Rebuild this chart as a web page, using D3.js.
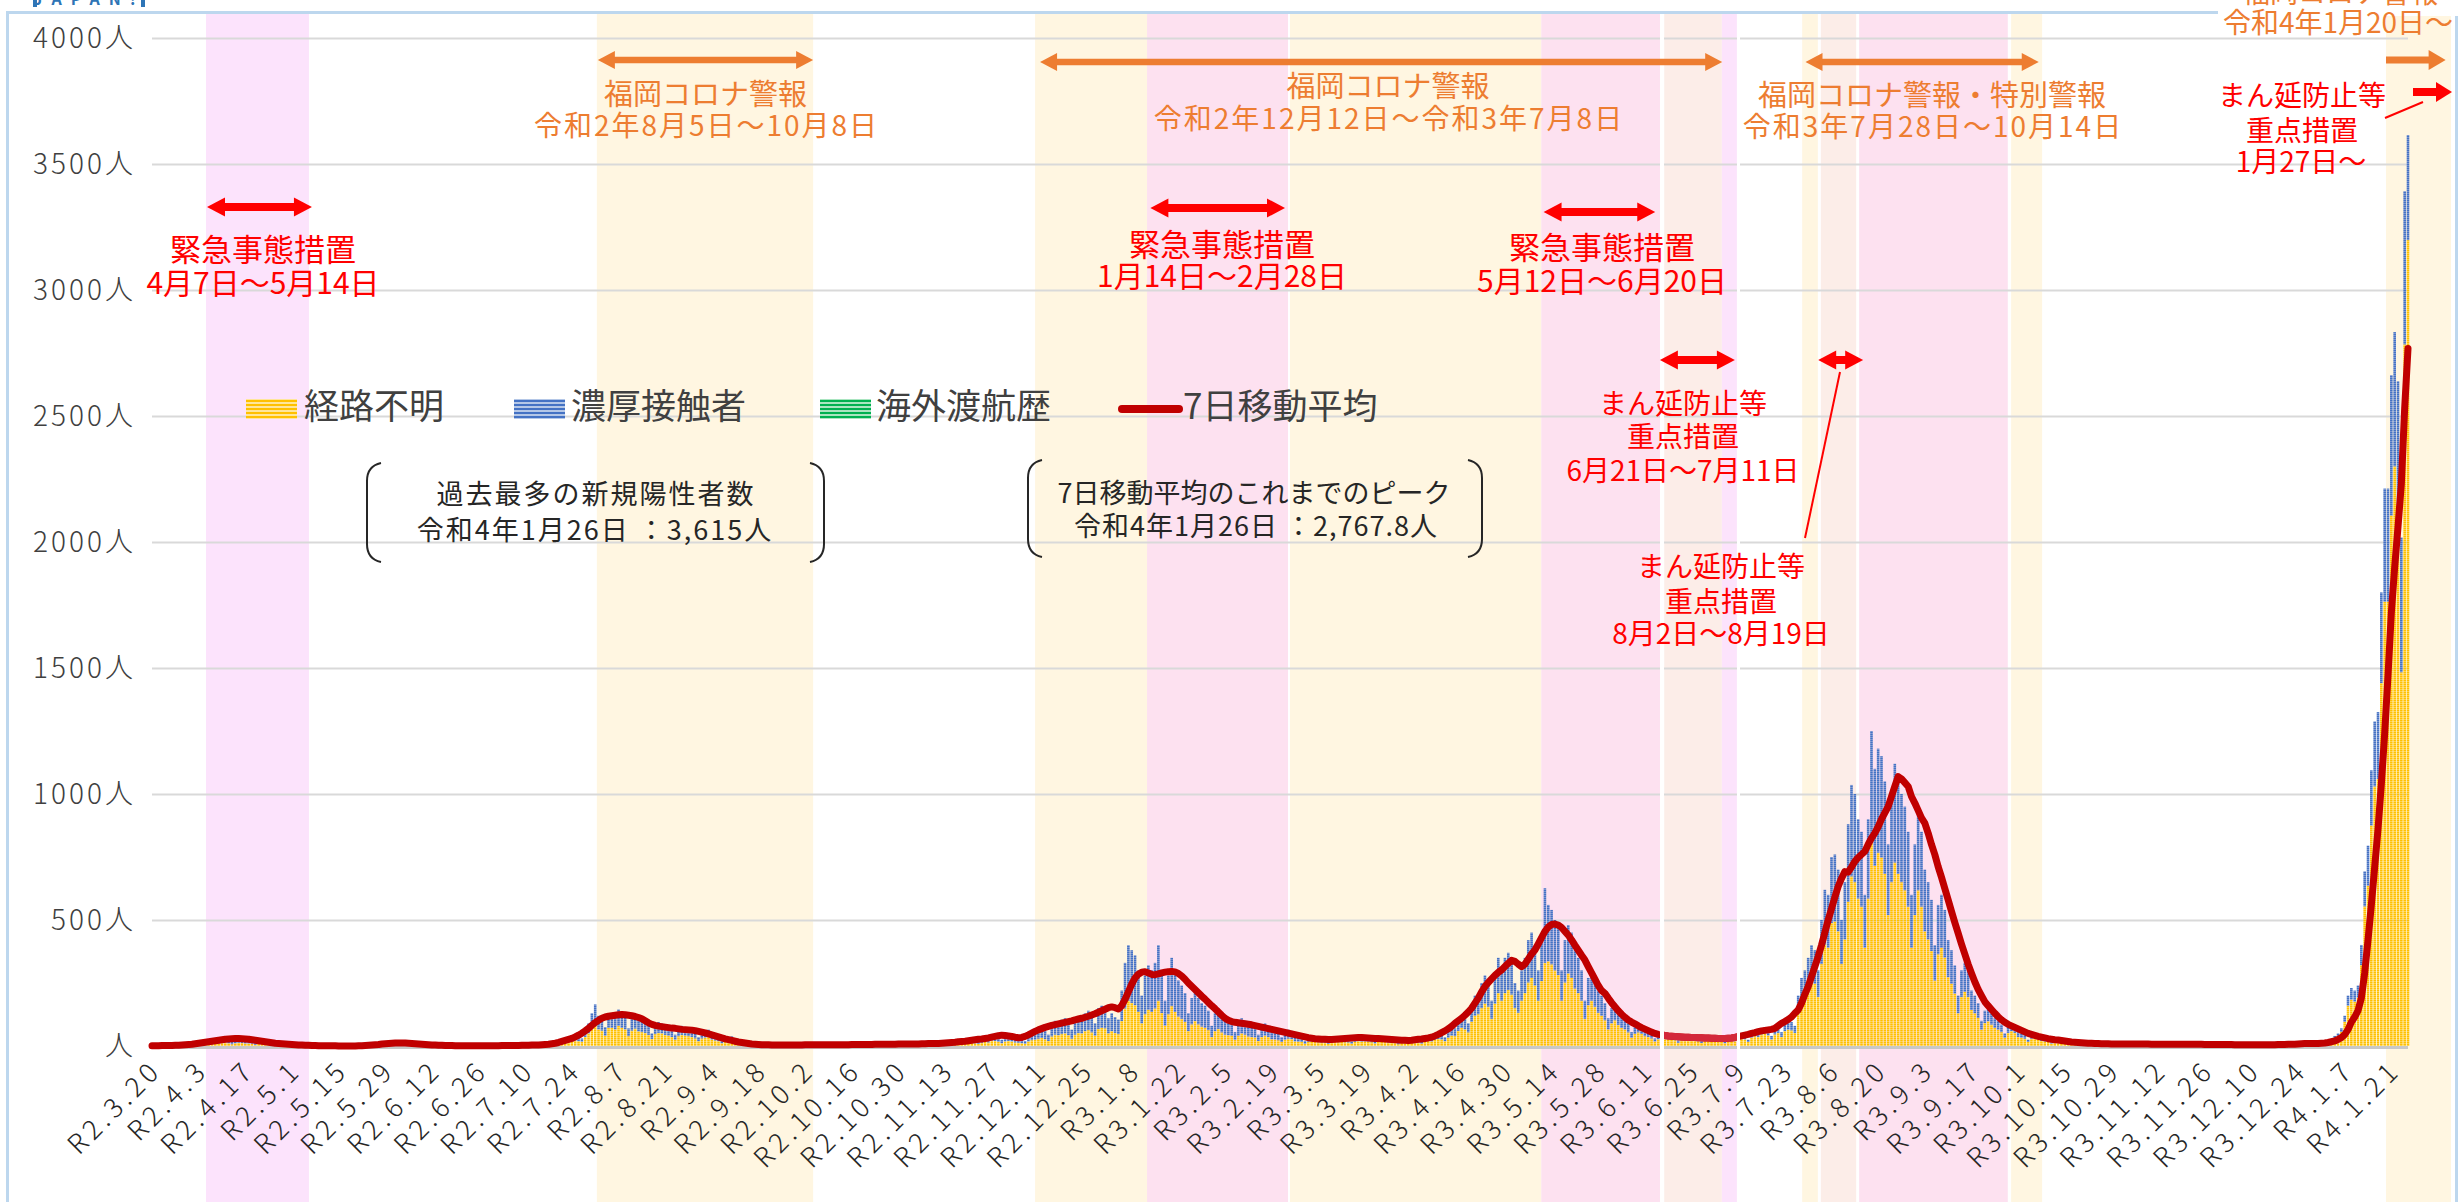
<!DOCTYPE html>
<html><head><meta charset="utf-8">
<script src="https://cdn.jsdelivr.net/npm/d3@7"></script>
<style>
body{margin:0;background:#fff;}
svg{display:block;font-family:"Noto Sans CJK JP","Noto Sans",sans-serif;}
</style>
</head><body>
<svg id="c" width="2463" height="1202"></svg>
<script>
// ---------------- DATA ----------------
const startDate = "2020-03-20"; // day index 0
const tickLabels = ["R2.3.20","R2.4.3","R2.4.17","R2.5.1","R2.5.15","R2.5.29","R2.6.12","R2.6.26","R2.7.10","R2.7.24","R2.8.7","R2.8.21","R2.9.4","R2.9.18","R2.10.2","R2.10.16","R2.10.30","R2.11.13","R2.11.27","R2.12.11","R2.12.25","R3.1.8","R3.1.22","R3.2.5","R3.2.19","R3.3.5","R3.3.19","R3.4.2","R3.4.16","R3.4.30","R3.5.14","R3.5.28","R3.6.11","R3.6.25","R3.7.9","R3.7.23","R3.8.6","R3.8.20","R3.9.3","R3.9.17","R3.10.1","R3.10.15","R3.10.29","R3.11.12","R3.11.26","R3.12.10","R3.12.24","R4.1.7","R4.1.21"];
const tickDays = tickLabels.map((d,i)=>i*14);
const yTicks = [0,500,1000,1500,2000,2500,3000,3500,4000];
const yTickLabels = ["人","500人","1000人","1500人","2000人","2500人","3000人","3500人","4000人"];
const seriesNames = ["経路不明","濃厚接触者","海外渡航歴","7日移動平均"];

// 経路不明 (daily, from 2020-03-20, one row per week Fri..Thu)
const unknownRoute = [
0,1,1,0,1,2,1, 2,2,2,1,2,3,4, 6,8,7,4,7,10,9, 12,14,11,7,11,13,12, 10,10,8,5,9,10,8, 6,5,4,2,5,6,4,
2,2,2,1,1,2,2, 1,0,0,0,0,0,1, 0,0,0,0,0,0,0, 0,1,2,1,2,3,3, 4,4,3,2,4,4,4, 3,2,2,1,2,1,1,
1,1,1,0,1,1,1, 0,0,0,0,0,1,0, 0,1,0,0,1,1,0, 1,1,1,0,1,1,1, 2,2,2,1,2,3,3, 4,7,6,4,10,14,15,
19,22,19,17,36,50,72, 91,66,61,41,72,72,66, 80,72,66,39,61,69,58, 55,52,44,28,47,52,50, 44,41,36,25,39,44,41, 39,36,30,19,30,33,36,
25,22,19,11,17,19,21, 11,9,8,4,7,8,7, 4,3,3,2,2,3,2, 3,2,2,1,2,3,2, 3,2,2,1,2,3,3, 3,2,2,1,2,3,3,
3,3,2,1,3,4,3, 4,3,3,2,3,4,4, 5,4,3,2,4,5,4, 5,5,4,2,5,5,5, 7,6,5,5,9,11,11, 14,13,11,8,13,16,14,
22,20,17,11,18,20,18, 14,13,11,9,18,23,25, 29,32,27,20,38,45,43, 47,50,43,29,45,52,50, 59,63,54,41,68,72,70, 50,59,52,47,99,149,180,
171,162,135,90,126,144,135, 149,180,131,81,126,158,135, 117,108,95,59,86,99,86, 77,72,63,36,59,68,54, 45,43,41,25,41,50,45, 38,36,34,20,36,41,36,
27,26,23,16,25,29,27, 18,17,16,9,16,18,16, 15,14,13,8,14,18,15, 16,15,14,9,16,19,17, 18,17,15,10,16,19,18, 14,13,12,7,12,15,14,
15,14,13,9,16,20,18, 25,28,26,19,33,41,39, 60,72,66,54,96,120,126, 150,168,156,108,168,210,180, 210,222,204,150,132,180,210, 252,270,240,180,258,330,336,
324,300,282,180,252,288,270, 228,210,180,108,162,180,156, 132,120,102,66,90,102,84, 72,66,54,33,48,54,48, 39,36,30,18,27,30,27, 27,25,23,13,23,25,24,
23,22,19,12,19,23,21, 21,20,18,11,18,21,19, 26,29,26,16,33,39,36, 46,49,42,26,46,52,36, 59,65,62,52,130,176,195, 228,260,247,195,325,403,390,
488,494,455,325,423,572,673, 650,585,553,390,585,813,715, 767,748,683,520,650,728,683, 650,618,553,390,520,618,553, 455,423,377,260,364,390,351, 273,247,208,130,195,215,195,
143,130,111,65,91,98,85, 72,65,55,33,52,59,52, 36,33,29,16,29,33,29, 20,18,16,9,16,18,16, 9,8,7,4,7,8,7, 6,5,5,3,5,5,5,
5,4,4,2,4,5,4, 4,4,3,2,4,4,4, 4,4,3,2,4,4,4, 4,4,4,2,4,4,4, 4,3,3,2,3,4,3, 3,3,3,2,3,3,3,
3,3,3,2,3,3,3, 4,3,3,2,4,5,5, 6,6,5,3,5,6,5, 11,13,18,22,32,40,56, 96,160,184,176,192,321,554, 636,875,1030,1060,1440,1763,1763,
2105,2300,2110,1483,2784,3198
];
// 濃厚接触者
const closeContact = [
1,1,2,0,1,2,2, 2,3,4,2,4,5,6, 9,12,11,6,11,15,13, 18,21,17,11,16,20,18, 16,14,12,7,13,15,13, 8,8,6,4,7,8,7,
4,3,2,1,2,2,2, 1,1,1,0,1,1,0, 0,0,0,0,0,1,0, 1,2,3,2,6,7,6, 9,8,8,6,10,9,8, 6,5,4,2,3,4,3,
2,1,1,1,1,1,1, 1,1,0,0,1,0,1, 1,0,1,0,0,1,1, 1,2,1,1,1,2,2, 2,3,2,1,2,3,3, 4,5,4,4,8,11,13,
16,18,16,13,29,40,58, 74,54,49,34,58,58,54, 65,58,54,31,49,56,47, 45,43,36,22,38,43,40, 36,34,29,20,31,36,34, 31,29,25,16,25,27,29,
20,18,16,9,13,16,17, 9,7,6,4,5,6,5, 4,3,2,1,2,2,2, 2,2,2,1,2,2,2, 3,3,2,2,3,3,3, 3,3,3,1,3,3,3,
4,3,3,2,3,4,4, 4,4,3,2,4,4,5, 5,4,4,2,4,5,5, 7,5,5,3,5,7,7, 8,8,7,5,11,14,13, 16,15,14,10,15,19,18,
26,25,21,14,22,25,22, 16,15,14,11,22,27,30, 36,38,33,25,47,55,52, 58,60,52,36,55,63,60, 71,77,66,49,82,88,85, 60,71,63,58,121,181,220,
209,198,165,110,154,176,165, 181,220,159,99,154,192,165, 143,132,115,71,104,121,104, 93,88,77,44,71,82,66, 55,52,49,30,49,60,55, 47,44,41,25,44,49,44,
33,32,29,19,30,36,33, 22,21,19,11,19,22,19, 15,14,12,7,14,17,15, 16,15,14,9,16,19,17, 17,17,15,10,16,19,17, 14,13,12,7,12,15,14,
15,14,13,9,16,20,18, 20,22,22,16,27,34,31, 40,48,44,36,64,80,84, 100,112,104,72,112,140,120, 140,148,136,100,88,120,140, 168,180,160,120,172,296,224,
216,200,188,120,168,192,180, 152,140,120,72,108,120,104, 88,80,68,44,60,68,56, 48,44,36,22,32,36,32, 26,24,20,12,18,20,18, 18,17,15,9,15,17,16,
15,14,13,8,13,15,14, 14,13,12,7,12,14,13, 14,16,14,9,17,21,19, 24,26,23,14,24,28,19, 31,35,33,28,70,94,105, 122,140,133,105,175,217,210,
262,266,245,175,227,308,363, 350,315,297,210,315,437,385, 413,402,367,280,350,392,367, 350,332,297,210,280,332,297, 245,227,203,140,196,210,189, 147,133,112,70,105,115,105,
77,70,59,35,49,52,45, 38,35,30,17,28,31,28, 19,17,16,9,16,17,16, 10,10,8,5,9,10,9, 9,8,7,4,6,7,7, 5,5,4,2,4,5,4,
4,4,4,2,4,4,4, 4,3,3,2,3,4,3, 4,3,3,2,3,4,4, 4,3,3,1,3,4,3, 3,3,3,1,3,3,3, 3,2,2,1,2,3,2,
3,2,2,1,2,3,2, 3,3,3,2,4,4,4, 6,5,5,3,5,6,5, 3,3,4,5,8,10,14, 24,40,46,44,48,80,139, 159,219,258,265,360,449,449,
557,533,528,535,608,417
];
// 海外渡航歴 (sparse: [day index, cases])
const overseas = [[2,1],[6,1],[10,1],[14,1],[17,2],[21,1]];
// 7日移動平均
const movingAvg = [
1,1,1,2,2,2,2, 3,3,4,5,6,7,9, 11,13,15,17,19,21,23, 25,27,28,29,30,30,29, 28,27,25,23,21,19,17, 15,13,11,10,9,8,7,
6,5,4,4,3,3,2, 2,1,1,1,1,1,1, 0,0,0,0,0,0,1, 1,2,3,4,5,6,8, 9,10,11,12,12,12,12, 11,10,9,8,7,6,5,
4,4,3,3,2,2,2, 1,1,1,1,1,1,1, 1,1,1,1,1,1,1, 2,2,2,2,2,2,3, 3,3,4,4,4,5,6, 7,9,11,14,18,22,26,
30,36,43,51,60,70,82, 93,102,110,115,118,120,122, 124,125,124,122,120,117,113, 108,100,92,86,82,79,77, 75,73,71,70,68,66,65, 64,63,61,58,55,52,48,
44,40,36,32,28,25,22, 19,16,14,12,10,8,7, 6,5,5,5,4,4,4, 4,4,4,4,4,4,4, 5,5,5,5,5,5,5, 5,5,5,5,5,5,5,
6,6,6,6,6,6,6, 7,7,7,7,7,7,7, 8,8,8,8,8,8,8, 9,9,10,10,10,10,11, 12,13,14,15,17,18,19, 21,23,25,27,28,30,32,
35,38,41,43,42,40,38, 35,33,34,38,44,51,58, 64,69,74,78,82,85,88, 91,94,97,100,104,107,110, 114,118,123,128,134,140,146, 152,155,152,147,160,185,215,
245,270,285,293,295,290,284, 283,286,290,293,295,296,294, 288,278,265,250,237,224,211, 198,186,173,160,148,135,122, 110,102,97,94,92,90,88, 86,84,81,78,75,72,69,
66,63,60,57,54,51,48, 45,42,39,36,33,31,29, 28,27,27,26,26,27,28, 29,30,31,32,33,34,34, 33,32,31,30,30,29,28, 27,26,25,24,23,23,22,
23,25,27,28,30,32,35, 40,46,53,60,68,78,90, 100,110,122,135,150,170,190, 215,236,252,266,280,292,302, 315,328,340,336,325,315,325, 345,365,381,405,430,455,472,
482,484,480,470,455,440,421, 400,380,360,341,315,290,265, 240,220,209,190,172,156,140, 126,114,103,95,88,80,73, 67,61,55,50,46,44,42, 40,39,38,37,36,35,35,
34,34,33,33,32,32,31, 31,30,30,30,31,32,34, 37,40,43,46,50,53,57, 60,62,64,66,70,80,90, 97,105,115,130,143,170,205, 236,275,315,355,400,450,500,
545,590,633,665,692,690,710, 732,748,760,772,800,825,845, 870,900,925,950,990,1030,1069, 1060,1045,1030,990,964,935,905, 884,845,800,760,712,670,625, 580,535,490,448,405,365,325,
289,255,225,200,176,160,145, 130,116,104,94,86,80,74, 68,62,56,50,46,42,38, 35,32,29,27,25,24,22, 20,18,16,15,14,13,12, 11,11,10,10,9,9,9,
8,8,8,8,8,8,8, 8,8,8,8,8,7,7, 7,7,7,7,7,7,7, 7,7,7,7,7,7,7, 6,6,6,6,6,6,6, 6,6,5,5,5,5,5,
5,5,5,5,5,5,5, 5,6,6,6,7,7,7, 8,9,10,10,10,10,10, 11,12,14,17,20,26,33, 45,65,95,115,140,190,290, 420,560,710,860,1040,1240,1470,
1720,1900,2060,2230,2530,2768
];

// Background periods (day index spans) and their kind
const periodSpans = [[16.2,47.1],[133.5,198.4],[265,298.6],[298.6,340.9],[341.5,416.9],[416.9,452.6],[453.8,471.1],[471.1,475.6],[495.2,499.9],[500.8,511.4],[512.3,556.9],[557.9,567.2],[670.4,689.9]];
const periodKinds = ["lavender","alert","alert","emergency","alert","emergency","priority","lavender","alert","priority","emergency","alert","alert"];

// Annotations: arrows (day index from/to), label lines
const alertArrows = [[133.8,198.4],[266.5,471.2],[496.2,566.2]];
const alertTitles = ["福岡コロナ警報","福岡コロナ警報","福岡コロナ警報・特別警報"];
const alertDates = ["令和2年8月5日～10月8日","令和2年12月12日～令和3年7月8日","令和3年7月28日～10月14日"];
const emergencyArrows = [[16.5,48],[299.6,340],[417.6,451.1]];
const emergencyDates = ["4月7日～5月14日","1月14日～2月28日","5月12日～6月20日"];
const priorityArrows = [[452.5,475],[500,513.5]];
const priorityDates = ["6月21日～7月11日","8月2日～8月19日"];

// ---------------- STYLE / LAYOUT ----------------
const W = 2463, H = 1202;
const kindColor = {lavender:"#FCE3FC", alert:"#FFF6E1", emergency:"#FDE1F0", priority:"#FCEDE8"};
const ORANGE = "#ED7D31", RED = "#FF0000", LINE = "#C00000";
const svg = d3.select("#c");
svg.append("rect").attr("width",W).attr("height",H).attr("fill","#fff");

const x = d3.scaleLinear().domain([0, unknownRoute.length-1]).range([152, 2408]);
const y = d3.scaleLinear().domain([0, 4000]).range([1046, 38]);

const defs = svg.append("defs");
function stripes(id, c1, c2, h, on){
  const p = defs.append("pattern").attr("id",id).attr("patternUnits","userSpaceOnUse")
    .attr("width",8).attr("height",h);
  p.append("rect").attr("width",8).attr("height",h).attr("fill",c2);
  p.append("rect").attr("width",8).attr("height",on).attr("fill",c1);
}
stripes("pY","#FFC000","#FFD44D",2,1);
stripes("pB","#4472C4","#7A96D2",2,1);
stripes("pG","#00B050","#7FD6A3",2,1);
stripes("lY","#FFC000","#FFE699",4,2);
stripes("lB","#4472C4","#B4C7E7",4,2);
stripes("lG","#00B050","#A9E5C0",4,2);

// frame
svg.append("rect").attr("x",7.5).attr("y",12.5).attr("width",2449).attr("height",1200)
  .attr("fill","none").attr("stroke","#BDD7EE").attr("stroke-width",3);

// background period bands
svg.append("g").selectAll("rect").data(periodSpans).join("rect")
  .attr("x",d=>x(d[0])).attr("width",d=>x(d[1])-x(d[0]))
  .attr("y",14).attr("height",H-14)
  .attr("fill",(d,i)=>kindColor[periodKinds[i]]);

// y axis + gridlines
const yAxis = svg.append("g").attr("transform","translate(152,0)")
  .call(d3.axisLeft(y).tickValues(yTicks).tickSize(-(2408-152)).tickPadding(16)
    .tickFormat((d,i)=>yTickLabels[i]));
yAxis.select(".domain").remove();
yAxis.selectAll("line").attr("stroke","#D9D9D9").attr("stroke-width",2.2)
  .filter(d=>d===0).remove();
yAxis.selectAll("text").attr("font-size",28).attr("fill","#404040").attr("letter-spacing","3px")
  .attr("font-family","'Noto Sans CJK JP',sans-serif").attr("font-weight",300).attr("dy","0.34em");

// bars
const bw = 2.6;
const bars = svg.append("g");
bars.selectAll("rect.u").data(unknownRoute).join("rect").attr("class","u")
  .attr("x",(d,i)=>x(i)-bw/2).attr("width",bw)
  .attr("y",d=>y(d)).attr("height",d=>y(0)-y(d)).attr("fill","url(#pY)");
bars.selectAll("rect.c").data(closeContact).join("rect").attr("class","c")
  .attr("x",(d,i)=>x(i)-bw/2).attr("width",bw)
  .attr("y",(d,i)=>y(d+unknownRoute[i])).attr("height",(d,i)=>y(unknownRoute[i])-y(d+unknownRoute[i]))
  .attr("fill","url(#pB)");
bars.selectAll("rect.o").data(overseas).join("rect").attr("class","o")
  .attr("x",d=>x(d[0])-bw/2).attr("width",bw)
  .attr("y",d=>y(d[1]+unknownRoute[d[0]]+closeContact[d[0]]))
  .attr("height",d=>y(0)-y(d[1])).attr("fill","url(#pG)");

// baseline
svg.append("line").attr("x1",152).attr("x2",2408).attr("y1",y(0)+1.5).attr("y2",y(0)+1.5)
  .attr("stroke","#C8C8C8").attr("stroke-width",3);

// moving average line
const lineGen = d3.line().x((d,i)=>x(i)).y(d=>y(d));
svg.append("path").datum(movingAvg).attr("d",lineGen).attr("fill","none")
  .attr("stroke",LINE).attr("stroke-width",7).attr("stroke-linejoin","round").attr("stroke-linecap","round");
defs.append("clipPath").attr("id","seg").append("rect").attr("x",1664).attr("y",0).attr("width",73).attr("height",H);
svg.append("path").datum(movingAvg).attr("d",lineGen).attr("fill","none").attr("clip-path","url(#seg)")
  .attr("stroke","#D3283A").attr("stroke-width",7).attr("stroke-linejoin","round");

// white seams
[[1660,4],[1737,3]].forEach(s=>svg.append("rect").attr("x",s[0]).attr("y",14).attr("width",s[1]).attr("height",H).attr("fill","#fff"));

// x axis
const xAxis = svg.append("g").attr("transform",`translate(0,${y(0)})`)
  .call(d3.axisBottom(x).tickValues(tickDays).tickSize(0).tickFormat((d,i)=>tickLabels[i]));
xAxis.select(".domain").remove();
xAxis.selectAll("text").attr("x",0).attr("y",0).attr("dy","0.35em")
  .attr("transform","translate(4,19) rotate(-45)").attr("text-anchor","end")
  .attr("font-size",27).attr("letter-spacing","4.5px").attr("fill","#262626")
  .attr("font-family","'Noto Sans CJK JP',sans-serif").attr("font-weight",300);

// arrows
function arrow(x1,x2,yy,color,w,hl,hw,both){
  const g = svg.append("g");
  g.append("line").attr("x1",both?x1+hl-1:x1).attr("x2",x2-hl+1).attr("y1",yy).attr("y2",yy)
    .attr("stroke",color).attr("stroke-width",w);
  g.append("path").attr("d",`M${x2},${yy} L${x2-hl},${yy-hw} L${x2-hl},${yy+hw} Z`).attr("fill",color);
  if(both) g.append("path").attr("d",`M${x1},${yy} L${x1+hl},${yy-hw} L${x1+hl},${yy+hw} Z`).attr("fill",color);
}
function label(t,cx,by,size,color,anchor){
  return svg.append("text").attr("x",cx).attr("y",by).attr("text-anchor",anchor||"middle")
    .attr("font-size",size).attr("fill",color).text(t);
}
const alertTitleY = [[105,136],[97,129],[106,137]];
const alertArrowY = [60,62,62];
alertArrows.forEach((a,i)=>{
  arrow(x(a[0]),x(a[1]),alertArrowY[i],ORANGE,6.5,17,9,true);
  const cx = i===1?1388:(i===2?1932:(x(a[0])+x(a[1]))/2);
  label(alertTitles[i],cx,alertTitleY[i][0],29,ORANGE);
  label(alertDates[i],cx+1,alertTitleY[i][1],28,ORANGE).attr("letter-spacing","2px");
});
// latest alert (open-ended)
arrow(x(670.4),x(688.3),60,ORANGE,7,17,10,false);
svg.append("rect").attr("x",2218).attr("y",8).attr("width",240).attr("height",8).attr("fill","#fff");
label("福岡コロナ警報",2340,3,28,ORANGE);
label("令和4年1月20日～",2338,33,28,ORANGE);

const emY = [207,208,212];
const emText = [[263,261,294],[1222,256,287],[1602,259,292]];
emergencyArrows.forEach((a,i)=>{
  arrow(x(a[0]),x(a[1]),emY[i],RED,8,18,9.5,true);
  label("緊急事態措置",emText[i][0],emText[i][1],31,RED);
  label(emergencyDates[i],emText[i][0],emText[i][2],30,RED);
});
const prText = [[1683,414,447,481],[1721,577,612,644]];
priorityArrows.forEach((a,i)=>{
  arrow(x(a[0]),x(a[1]),360,RED,8,18,9.5,true);
  label("まん延防止等",prText[i][0],prText[i][1],28,RED);
  label("重点措置",prText[i][0],prText[i][2],28,RED);
  label(priorityDates[i],prText[i][0],prText[i][3],28,RED);
});
svg.append("line").attr("x1",1840).attr("y1",372).attr("x2",1805).attr("y2",538).attr("stroke",RED).attr("stroke-width",2);
arrow(x(678.5),x(690.2),92,RED,8,16,10,false);
svg.append("line").attr("x1",2423).attr("y1",102).attr("x2",2385).attr("y2",118).attr("stroke",RED).attr("stroke-width",2);
label("まん延防止等",2302,106,28,RED);
label("重点措置",2302,141,28,RED);
label("1月27日～",2301,172,28,RED);

// legend
const lg = svg.append("g");
const legendX = [[246,304],[514,571],[820,876],[1122,1183]];
const legendFill = ["url(#lY)","url(#lB)","url(#lG)"];
seriesNames.forEach((n,i)=>{
  if(i<3) lg.append("rect").attr("x",legendX[i][0]).attr("y",399).attr("width",51).attr("height",20).attr("fill",legendFill[i]);
  else lg.append("line").attr("x1",legendX[i][0]).attr("x2",legendX[i][0]+57).attr("y1",409).attr("y2",409)
        .attr("stroke",LINE).attr("stroke-width",8).attr("stroke-linecap","round");
  lg.append("text").attr("x",legendX[i][1]).attr("y",419).attr("font-size",35).attr("fill","#404040").text(n);
});

// bracket notes
function bracket(xl,xr,top,bot){
  const c=14;
  svg.append("path").attr("d",`M${xl+c},${top} Q${xl},${top+3} ${xl},${top+c+4} L${xl},${bot-c-4} Q${xl},${bot-3} ${xl+c},${bot}`)
    .attr("fill","none").attr("stroke","#262626").attr("stroke-width",2);
  svg.append("path").attr("d",`M${xr-c},${top} Q${xr},${top+3} ${xr},${top+c+4} L${xr},${bot-c-4} Q${xr},${bot-3} ${xr-c},${bot}`)
    .attr("fill","none").attr("stroke","#262626").attr("stroke-width",2);
}
bracket(367,824,463,562);
label("過去最多の新規陽性者数",596,504,27,"#262626").attr("letter-spacing","2px");
label("令和4年1月26日 ：3,615人",595,540,27,"#262626").attr("letter-spacing","2px");
bracket(1028,1482,460,557);
label("7日移動平均のこれまでのピーク",1254,503,27,"#262626");
label("令和4年1月26日 ：2,767.8人",1256,536,27,"#262626").attr("letter-spacing","1px");

// top-left logo remnant
svg.append("rect").attr("x",33).attr("y",0).attr("width",4).attr("height",7).attr("fill","#2E75B6");
svg.append("rect").attr("x",141).attr("y",0).attr("width",4).attr("height",7).attr("fill","#2E75B6");
svg.append("text").attr("x",89).attr("y",5).attr("text-anchor","middle").attr("font-size",16).attr("font-weight","bold")
  .attr("letter-spacing","9px").attr("fill","#2E75B6").text("JAPAN!");
</script>
</body></html>
